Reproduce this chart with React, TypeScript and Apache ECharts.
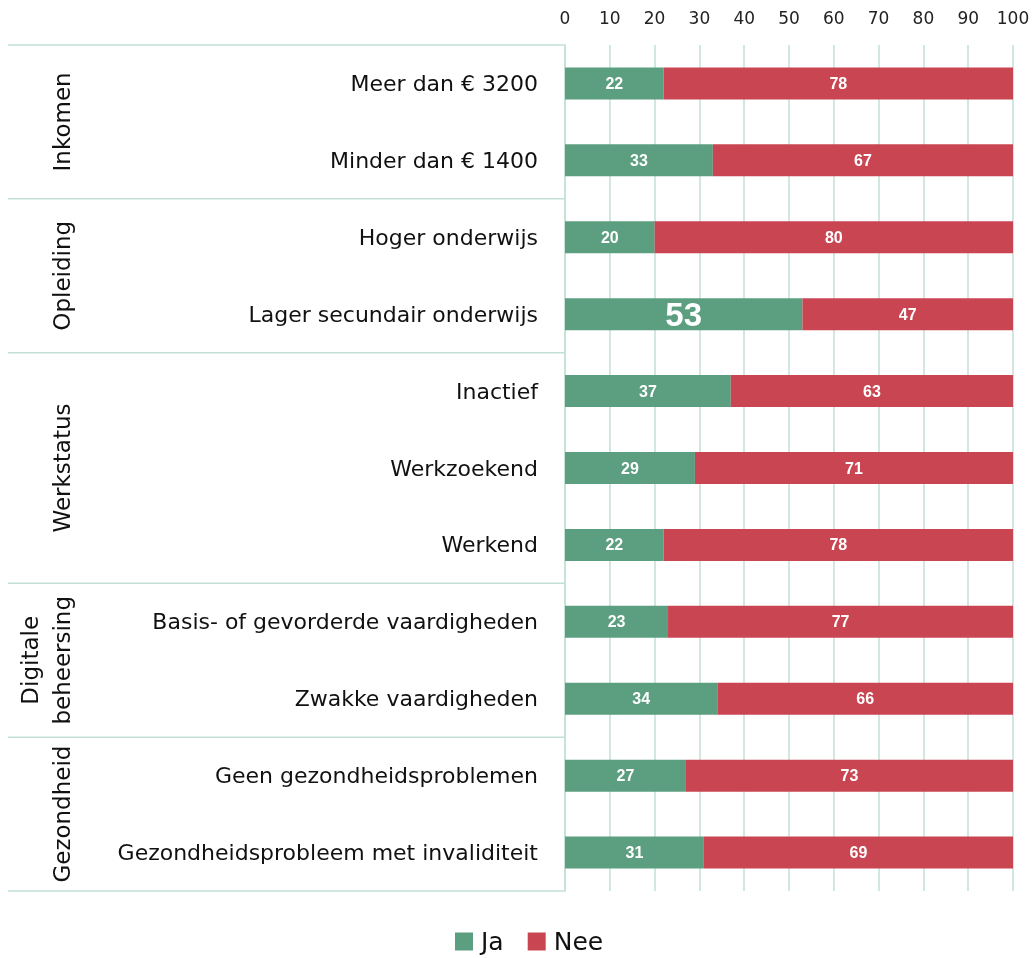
import React, { useEffect, useRef } from "react";
import * as echarts from "echarts";

const categories = [
  "Meer dan € 3200",
  "Minder dan € 1400",
  "Hoger onderwijs",
  "Lager secundair onderwijs",
  "Inactief",
  "Werkzoekend",
  "Werkend",
  "Basis- of gevorderde vaardigheden",
  "Zwakke vaardigheden",
  "Geen gezondheidsproblemen",
  "Gezondheidsprobleem met invaliditeit",
];
const jaValues = [22, 33, 20, 53, 37, 29, 22, 23, 34, 27, 31];
const neeValues = [78, 67, 80, 47, 63, 71, 78, 77, 66, 73, 69];
const groups = [
  { name: "Inkomen", start: 0, end: 1 },
  { name: "Opleiding", start: 2, end: 3 },
  { name: "Werkstatus", start: 4, end: 6 },
  { name: "Digitale\nbeheersing", start: 7, end: 8 },
  { name: "Gezondheid", start: 9, end: 10 },
];
const highlightIndex = 3;

const GREEN = "#5b9e80";
const RED = "#c94552";
const GRID = "#c3e0d5";
const FONT = "'DejaVu Sans', sans-serif";
const BAR_FONT = "'Liberation Sans', Arial, sans-serif";

export default function App() {
  const ref = useRef<HTMLDivElement>(null);
  useEffect(() => {
    if (!ref.current) return;
    const chart = echarts.init(ref.current, null, { renderer: "svg" });
    const option: any = {
      animation: false,
      textStyle: { fontFamily: FONT },
      grid: { left: 565, right: 22, top: 45, bottom: 67 },
      legend: {
        top: 929,
        left: 455,
        padding: 0,
        itemWidth: 18,
        itemHeight: 18,
        itemGap: 24,
        icon: "rect",
        textStyle: {
          fontSize: 25,
          lineHeight: 24,
          color: "#111",
          fontFamily: FONT,
          padding: [0, 0, 0, 3],
        },
        data: ["Ja", "Nee"],
      },
      xAxis: {
        type: "value",
        position: "top",
        min: 0,
        max: 100,
        interval: 10,
        axisLine: { show: false },
        axisTick: { show: false },
        axisLabel: { fontSize: 17, color: "#222", margin: 19 },
        splitLine: { show: true, lineStyle: { color: GRID, width: 1.5 } },
      },
      yAxis: {
        type: "category",
        inverse: true,
        data: categories,
        axisLine: { show: true, lineStyle: { color: GRID, width: 1.5 } },
        axisTick: { show: false },
        axisLabel: { fontSize: 22, color: "#111", margin: 27 },
      },
      series: [
        {
          name: "Ja",
          type: "bar",
          stack: "total",
          barWidth: 32,
          itemStyle: { color: GREEN },
          label: { show: true, color: "#fff", fontWeight: "bold", fontSize: 16, fontFamily: BAR_FONT },
          data: jaValues.map((v, i) =>
            i === highlightIndex
              ? { value: v, label: { fontSize: 33 } }
              : v
          ),
        },
        {
          name: "Nee",
          type: "bar",
          stack: "total",
          barWidth: 32,
          itemStyle: { color: RED },
          label: { show: true, color: "#fff", fontWeight: "bold", fontSize: 16, fontFamily: BAR_FONT },
          data: neeValues,
        },
      ],
    };
    chart.setOption(option);

    const toY = (idx: number) => chart.convertToPixel({ yAxisIndex: 0 }, idx) as number;
    const band = toY(1) - toY(0);
    const x0 = chart.convertToPixel({ xAxisIndex: 0 }, 0) as number;
    const elements: any[] = [];
    const boundaries = new Set<number>();
    groups.forEach((g) => {
      boundaries.add(toY(g.start) - band / 2);
      boundaries.add(toY(g.end) + band / 2);
    });
    boundaries.forEach((y) => {
      elements.push({
        type: "line",
        shape: { x1: 8, y1: y, x2: x0, y2: y },
        style: { stroke: GRID, lineWidth: 1.5 },
        silent: true,
      });
    });
    groups.forEach((g) => {
      const cy = (toY(g.start) + toY(g.end)) / 2;
      const twoLine = g.name.includes("\n");
      elements.push({
        type: "text",
        x: twoLine ? 46 : 62,
        y: cy,
        rotation: Math.PI / 2,
        style: {
          text: g.name,
          fontSize: 23,
          fontFamily: FONT,
          fill: "#111",
          align: "center",
          verticalAlign: "middle",
          lineHeight: 32,
        },
        silent: true,
      });
    });
    chart.setOption({ graphic: { elements } });

    return () => chart.dispose();
  }, []);
  return (
    <div
      ref={ref}
      style={{ position: "fixed", top: 0, left: 0, width: 1035, height: 958 }}
    />
  );
}
